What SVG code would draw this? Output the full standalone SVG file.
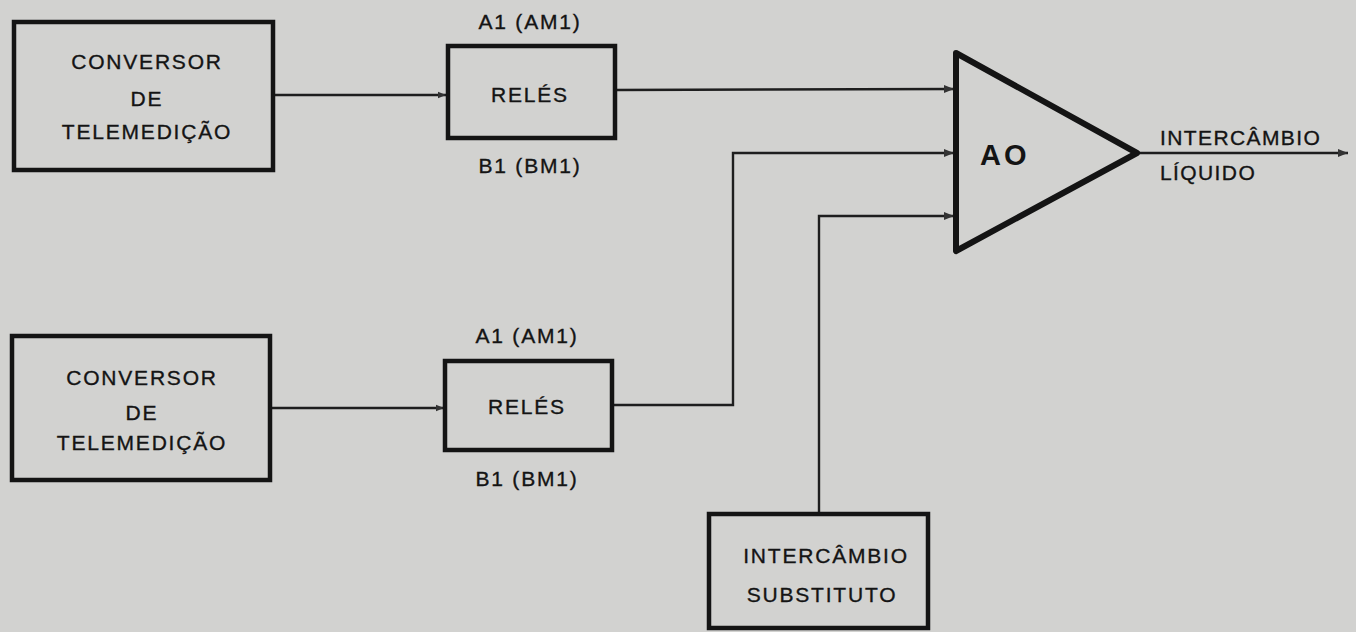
<svg xmlns="http://www.w3.org/2000/svg" width="1356" height="632" viewBox="0 0 1356 632">
<defs>
<style>
.box{fill:none;stroke:#141414;stroke-width:4.5}
.ln{fill:none;stroke:#1e1e1e;stroke-width:2.4}
.t{font-family:"Liberation Sans",Arial,sans-serif;font-size:21px;fill:#141414;stroke:#141414;stroke-width:0.35;text-anchor:middle;letter-spacing:1.8px}
.s{font-family:"Liberation Sans",Arial,sans-serif;font-size:21px;fill:#141414;stroke:#141414;stroke-width:0.35;letter-spacing:1.4px}
</style>
<marker id="ah" viewBox="0 0 10 10" refX="10" refY="5" markerWidth="9" markerHeight="8" markerUnits="userSpaceOnUse" orient="auto">
<path d="M0,1 L10,5 L0,9 Z" fill="#333"/>
</marker>
<marker id="ahb" viewBox="0 0 10 10" refX="10" refY="5" markerWidth="12" markerHeight="10" markerUnits="userSpaceOnUse" orient="auto">
<path d="M0,1 L10,5 L0,9 Z" fill="#333"/>
</marker>
</defs>
<rect width="1356" height="632" fill="#d2d2d0"/>
<g id="connectors">
<line class="ln" x1="273" y1="95" x2="446" y2="95" marker-end="url(#ah)"/>
<line class="ln" x1="615" y1="90" x2="954" y2="89" marker-end="url(#ahb)"/>
<line class="ln" x1="270" y1="408" x2="444" y2="408" marker-end="url(#ah)"/>
<polyline class="ln" points="612,405 733,405 733,153 954,153" marker-end="url(#ahb)"/>
<polyline class="ln" points="819,514 819,216 954,216" marker-end="url(#ahb)"/>
<line class="ln" x1="1138" y1="153" x2="1348" y2="153" marker-end="url(#ahb)"/>
</g>
<g id="conv1">
<rect class="box" x="14" y="22" width="259" height="148"/>
<text class="t" x="147" y="69">CONVERSOR</text>
<text class="t" x="147" y="106">DE</text>
<text class="t" x="147" y="139">TELEMEDIÇÃO</text>
</g>
<g id="reles1">
<rect class="box" x="448" y="46" width="167" height="92"/>
<text class="t" x="530" y="29">A1 (AM1)</text>
<text class="t" x="530" y="102" letter-spacing="3">RELÉS</text>
<text class="t" x="530" y="173">B1 (BM1)</text>
</g>
<g id="conv2">
<rect class="box" x="12" y="336" width="258" height="144"/>
<text class="t" x="142" y="385">CONVERSOR</text>
<text class="t" x="142" y="420">DE</text>
<text class="t" x="142" y="450">TELEMEDIÇÃO</text>
</g>
<g id="reles2">
<rect class="box" x="445" y="361" width="167" height="89"/>
<text class="t" x="527" y="343">A1 (AM1)</text>
<text class="t" x="527" y="414" letter-spacing="3">RELÉS</text>
<text class="t" x="527" y="486">B1 (BM1)</text>
</g>
<g id="ao">
<polygon points="956,53 1137,153 956,251" fill="none" stroke="#141414" stroke-width="6" stroke-linejoin="round"/>
<text x="980" y="165" font-family="'Liberation Sans',Arial,sans-serif" font-size="29" font-weight="bold" fill="#141414" letter-spacing="3">AO</text>
</g>
<g id="saida">
<text class="s" x="1160" y="145">INTERCÂMBIO</text>
<text class="s" x="1160" y="180">LÍQUIDO</text>
</g>
<g id="subst">
<rect class="box" x="709" y="514" width="219" height="114"/>
<text class="t" x="826" y="563" letter-spacing="1">INTERCÂMBIO</text>
<text class="t" x="822" y="602" letter-spacing="1.5">SUBSTITUTO</text>
</g>
</svg>
